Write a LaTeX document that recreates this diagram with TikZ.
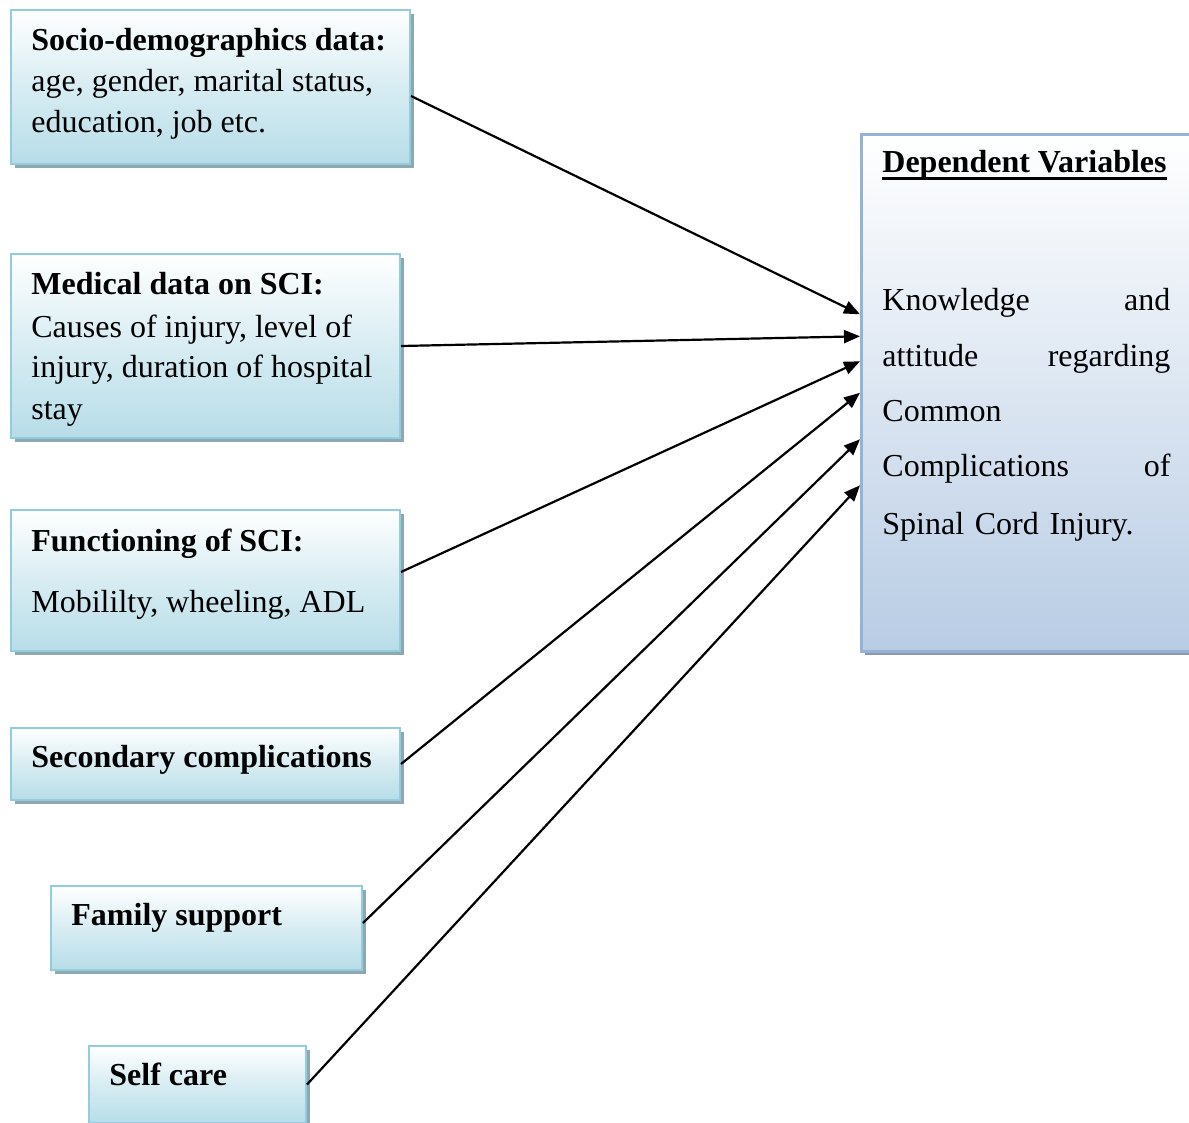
\documentclass[tikz,border=0pt]{standalone}
\usepackage{fontspec}
\setmainfont{Liberation Serif}
\usetikzlibrary{shadows,arrows.meta}
\definecolor{boxblue}{HTML}{B7DDE8}
\definecolor{boxline}{HTML}{93CDDD}
\definecolor{boxshadow}{HTML}{8EA8B0}
\definecolor{dvblue}{HTML}{B8CCE4}
\definecolor{dvline}{HTML}{95B3D7}
\definecolor{dvshadow}{HTML}{8C9AAD}
\begin{document}
\begin{tikzpicture}[x=0.5pt,y=-0.5pt,
  ivbox/.style={draw=boxline, line width=1pt, top color=white, bottom color=boxblue,
    middle color=boxblue!55!white, anchor=north west, inner sep=0pt,
    drop shadow={shadow xshift=2pt, shadow yshift=-2pt, fill=boxshadow, opacity=1}},
  dvbox/.style={draw=dvline, line width=1.3pt, top color=white, bottom color=dvblue,
    middle color=dvblue!50!white, anchor=north west, inner sep=0pt,
    drop shadow={shadow xshift=2pt, shadow yshift=-2pt, fill=dvshadow, opacity=1}},
  txt/.style={anchor=base west, inner sep=0pt, font=\fontsize{16}{20}\selectfont},
  jline/.style={txt, text width=144pt, align=left},
  conn/.style={line width=1.1pt, -{Triangle[length=8pt,width=6.5pt]}}]
\useasboundingbox (0,0) rectangle (1189,1123);
\fill[white] (0,0) rectangle (1189,1123);

% boxes
\node[ivbox, minimum width=199.5pt, minimum height=77pt] (b1) at (10,9) {};
\node[ivbox, minimum width=194.5pt, minimum height=92pt] (b2) at (10,253) {};
\node[ivbox, minimum width=194.5pt, minimum height=70.5pt] (b3) at (10,509) {};
\node[ivbox, minimum width=194.5pt, minimum height=36pt] (b4) at (10,727) {};
\node[ivbox, minimum width=155.5pt, minimum height=42pt] (b5) at (50,885) {};
\node[ivbox, minimum width=108.5pt, minimum height=38.5pt] (b6) at (88,1045) {};
\node[dvbox, minimum width=172pt, minimum height=258.5pt] (dv) at (860,133) {};

% texts
\node[txt] (t1a) at (31,51) {\textbf{Socio-demographics data:}};
\node[txt] (t1b) at (31,92) {age, gender, marital status,};
\node[txt] (t1c) at (31,133) {education, job etc.};
\node[txt] (t2a) at (31,295) {\textbf{Medical data on SCI:}};
\node[txt] (t2b) at (31,337) {Causes of injury, level of};
\node[txt] (t2c) at (31,378) {injury, duration of hospital};
\node[txt] (t2d) at (31,419) {stay};
\node[txt] (t3a) at (31,551) {\textbf{Functioning of SCI:}};
\node[txt] (t3b) at (31,612) {Mobililty, wheeling, ADL};
\node[txt] (t4) at (31,767) {\textbf{Secondary complications}};
\node[txt] (t5) at (71,925) {\textbf{Family support}};
\node[txt] (t6) at (109,1085) {\textbf{Self care}};

\node[txt] (dvh) at (882,173) {\textbf{Dependent Variables}};
\draw[line width=1.4pt] ([yshift=-2.6pt]dvh.base west) -- ([yshift=-2.6pt]dvh.base east);
\node[jline] (d1) at (882,311) {Knowledge\hfill and};
\node[jline] (d2) at (882,366) {attitude\hfill regarding};
\node[jline] (d3) at (882,421) {Common};
\node[jline] (d4) at (882,476) {Complications\hfill of};
\node[jline] (d5) at (882,534) {Spinal Cord Injury.};

% connectors
\draw[conn] ([yshift=-4.5pt]b1.east) -- ([yshift=39.25pt]dv.west);
\draw[conn] (b2.east) -- ([yshift=28.25pt]dv.west);
\draw[conn] ([yshift=4.25pt]b3.east) -- ([yshift=15.75pt]dv.west);
\draw[conn] (b4.east) -- (dv.west);
\draw[conn] ([yshift=2.5pt]b5.east) -- ([yshift=-23.25pt]dv.west);
\draw[conn] (b6.east) -- ([yshift=-46.25pt]dv.west);
\end{tikzpicture}
\end{document}
